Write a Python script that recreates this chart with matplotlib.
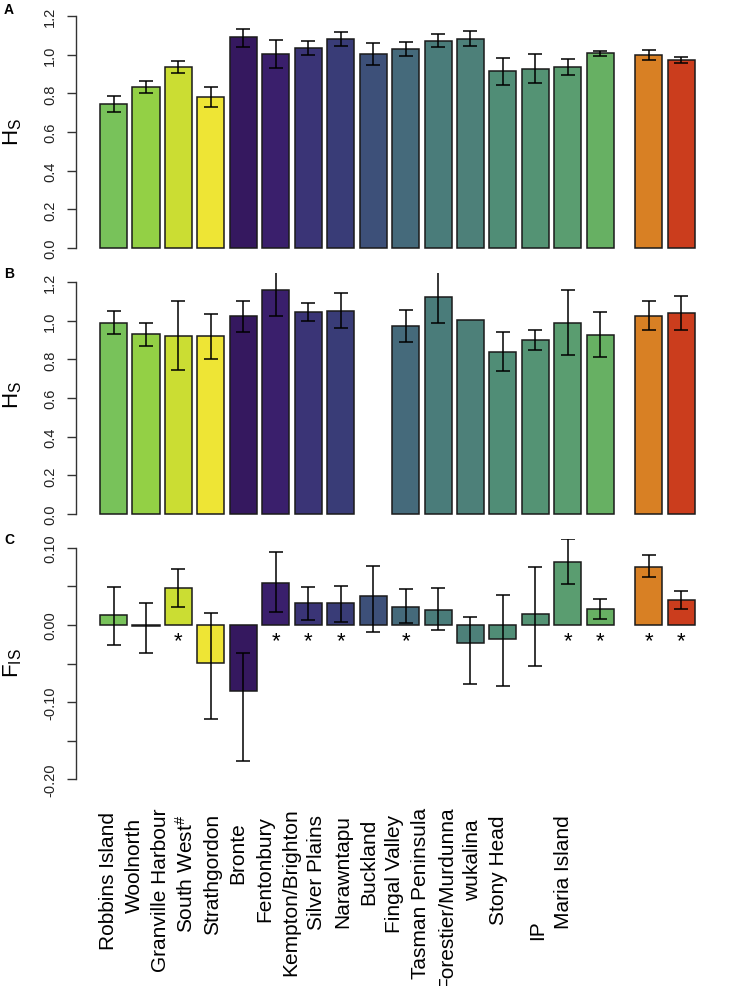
import numpy as np
import matplotlib
matplotlib.use('Agg')
import matplotlib.pyplot as plt
from matplotlib.transforms import blended_transform_factory

plt.rcParams['font.family'] = ['Liberation Sans', 'DejaVu Sans']
plt.rcParams['mathtext.fontset'] = 'custom'
plt.rcParams['mathtext.rm'] = 'Liberation Sans'
plt.rcParams['mathtext.it'] = 'Liberation Sans:italic'
plt.rcParams['mathtext.bf'] = 'Liberation Sans:bold'

# ---- data ----
sites = ['Robbins Island', 'Woolnorth', 'Granville Harbour', r'South West$^{\#}$',
         'Strathgordon', 'Bronte', 'Fentonbury', 'Kempton/Brighton', 'Silver Plains',
         'Narawntapu', 'Buckland', 'Fingal Valley', 'Tasman Peninsula',
         'Forestier/Murdunna', 'wukalina', 'Stony Head', 'IP', 'Maria Island']

colours = ['#78C25A', '#93D045', '#CBDD33', '#EEE535', '#35185F', '#3A1F6C',
           '#3A3476', '#393C77', '#3D5079', '#456A7B', '#4A7C7A', '#4D8079',
           '#508D76', '#549374', '#5A9D70', '#67B063', '#D88024', '#CB3D1D']

# panel A : Hs
hsA = [0.746, 0.833, 0.936, 0.780, 1.090, 1.002, 1.035, 1.081, 1.004,
       1.031, 1.073, 1.083, 0.914, 0.928, 0.936, 1.007, 0.998, 0.974]
hsA_lo = [0.705, 0.802, 0.905, 0.728, 1.041, 0.930, 0.998, 1.047, 0.948,
          0.995, 1.038, 1.047, 0.845, 0.854, 0.895, 0.993, 0.973, 0.959]
hsA_hi = [0.785, 0.862, 0.966, 0.831, 1.135, 1.074, 1.071, 1.116, 1.061,
          1.066, 1.107, 1.121, 0.981, 1.002, 0.978, 1.019, 1.024, 0.990]

# panel B : Hs (Silver Plains missing, Fingal Valley without CI)
hsB = [0.990, 0.930, 0.922, 0.919, 1.023, 1.157, 1.043, 1.052, np.nan,
       0.973, 1.124, 1.004, 0.840, 0.902, 0.990, 0.928, 1.026, 1.038]
hsB_lo = [0.930, 0.871, 0.743, 0.803, 0.940, 1.026, 0.998, 0.961, np.nan,
          0.890, 0.988, np.nan, 0.738, 0.850, 0.823, 0.814, 0.953, 0.950]
hsB_hi = [1.050, 0.988, 1.102, 1.036, 1.102, 1.288, 1.090, 1.143, np.nan,
          1.057, 1.264, np.nan, 0.940, 0.952, 1.159, 1.047, 1.100, 1.129]

# panel C : Fis
fis = [0.013, -0.002, 0.048, -0.049, -0.086, 0.054, 0.028, 0.028, 0.037,
       0.023, 0.019, -0.024, -0.018, 0.014, 0.081, 0.020, 0.075, 0.032]
fis_lo = [-0.026, -0.037, 0.023, -0.122, -0.176, 0.017, 0.007, 0.004, -0.009,
          0.002, -0.007, -0.076, -0.079, -0.053, 0.053, 0.008, 0.062, 0.021]
fis_hi = [0.049, 0.029, 0.073, 0.015, -0.036, 0.095, 0.049, 0.050, 0.077,
          0.047, 0.048, 0.010, 0.039, 0.075, 0.112, 0.034, 0.090, 0.044]
signif = [False, False, True, False, False, True, True, True, False,
          True, False, False, False, False, True, True, True, True]

# ---- layout ----
W, H = 736, 987
space = [0.0] + [0.2] * 15 + [0.8, 0.2]
xpos = np.cumsum(np.array(space) + 1.0) - 0.5   # bar centres, width 1
xlim = (-0.888, 22.89)

def fig_box(top_px, bottom_px, left_px=76, right_px=719):
    return [left_px / W, 1 - bottom_px / H, (right_px - left_px) / W, (bottom_px - top_px) / H]

fig = plt.figure(figsize=(W / 100, H / 100), dpi=100)
axA = fig.add_axes(fig_box(7.7, 258.3))
axB = fig.add_axes(fig_box(273.7, 524.3))
axC = fig.add_axes(fig_box(539.5, 789.5))


def draw_panel(ax, vals, lo, hi):
    vals = np.array(vals, dtype=float)
    lo = np.array(lo, dtype=float)
    hi = np.array(hi, dtype=float)
    ok = ~np.isnan(vals)
    ax.bar(xpos[ok], vals[ok], width=1.0, color=np.array(colours)[ok],
           edgecolor='#1a1a1a', linewidth=1.1, zorder=2)
    e = ~np.isnan(lo)
    ax.errorbar(xpos[e], vals[e], yerr=[vals[e] - lo[e], hi[e] - vals[e]],
                fmt='none', ecolor='black', elinewidth=1.1, capsize=5, capthick=1.1, zorder=3)
    ax.set_xlim(*xlim)
    for s in ['top', 'right', 'bottom']:
        ax.spines[s].set_visible(False)
    ax.spines['left'].set_linewidth(1.0)
    ax.spines['left'].set_color('#333333')
    ax.set_xticks([])
    ax.tick_params(axis='y', direction='out', length=6.5, width=1.0, color='#333333',
                   labelsize=10.5, labelrotation=90, pad=7, labelcolor='#222222')


hs_ticks = np.round(np.arange(0, 1.21, 0.2), 1)
for ax, v, lo, hi in [(axA, hsA, hsA_lo, hsA_hi), (axB, hsB, hsB_lo, hsB_hi)]:
    draw_panel(ax, v, lo, hi)
    ax.set_ylim(-0.048, 1.248)
    ax.set_yticks(hs_ticks)
    ax.set_yticklabels(['%.1f' % t for t in hs_ticks], va='center')
    ax.spines['left'].set_bounds(0, 1.2)

draw_panel(axC, fis, fis_lo, fis_hi)
axC.set_ylim(-0.212, 0.112)
fis_ticks = [-0.20, -0.15, -0.10, -0.05, 0.0, 0.05, 0.10]
axC.set_yticks(fis_ticks)
axC.set_yticklabels(['-0.20', '', '-0.10', '', '0.00', '', '0.10'], va='center')
axC.spines['left'].set_bounds(-0.2, 0.1)

for x, s in zip(xpos, signif):
    if s:
        axC.text(x, -0.027, '*', ha='center', va='baseline', fontsize=16, color='black')

# axis titles and panel letters
fig.text(13 / W, 1 - 132 / H, r'H$_\mathrm{S}$', rotation=90, ha='center', va='center', fontsize=16)
fig.text(13 / W, 1 - 395 / H, r'H$_\mathrm{S}$', rotation=90, ha='center', va='center', fontsize=16)
fig.text(13 / W, 1 - 663 / H, r'F$_\mathrm{IS}$', rotation=90, ha='center', va='center', fontsize=16)
for letter, ypx in [('A', 10), ('B', 274), ('C', 540)]:
    fig.text(9 / W, 1 - ypx / H, letter, ha='center', va='center', fontsize=10, fontweight='bold')

# site names under the panels
trans = blended_transform_factory(axC.transData, fig.transFigure)
name_nudge = {'IP': 93}
texts = []
for x, name in zip(xpos, sites):
    t = axC.text(0.8025 * x - 0.105, 1 - 830 / H, name, rotation=90, ha='center', va='top',
                 fontsize=15, transform=trans, clip_on=False)
    texts.append((t, name))
fig.canvas.draw()
r = fig.canvas.get_renderer()
for t, name in texts:
    h = t.get_window_extent(r).height
    top = 830 - 0.13 * h + name_nudge.get(name, 0)
    t.set_y(1 - top / H)

fig.savefig('out.png', dpi=100)
